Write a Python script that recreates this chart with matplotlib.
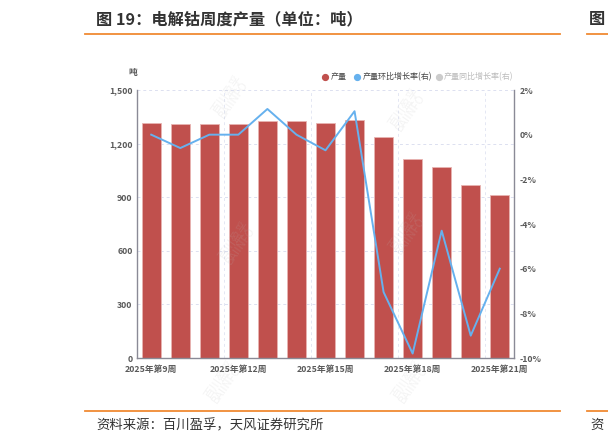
import matplotlib
matplotlib.use("Agg")
import matplotlib.pyplot as plt
import numpy as np
from matplotlib.lines import Line2D

plt.rcParams['font.family'] = ['Noto Sans CJK SC', 'DejaVu Sans']

weeks = ["2025年第9周", "2025年第10周", "2025年第11周", "2025年第12周", "2025年第13周",
         "2025年第14周", "2025年第15周", "2025年第16周", "2025年第17周", "2025年第18周",
         "2025年第19周", "2025年第20周", "2025年第21周"]
output = [1317, 1310, 1310, 1310, 1326, 1326, 1315, 1332, 1235, 1114, 1069, 970, 912]
mom = [0.0, -0.6, 0.0, 0.0, 1.15, 0.0, -0.7, 1.05, -7.05, -9.8, -4.3, -9.0, -6.0]
left_ticks = [0, 300, 600, 900, 1200, 1500]
right_ticks = [-10, -8, -6, -4, -2, 0, 2]

W, H = 608, 446
fig = plt.figure(figsize=(W / 100, H / 100), dpi=100)

def fx(px):
    return px / W

def fy(py):
    return 1 - py / H

ax = fig.add_axes([fx(136.7), fy(358), fx(514.3) - fx(136.7), fy(90) - fy(358)])
x = np.arange(len(weeks))

bar_col = '#C0504D'
line_col = '#66B1EE'
tick_col = '#5A5A5A'
spine_col = '#8A8A96'

# grid
for v in left_ticks[1:]:
    ax.axhline(v, color='#DCE0F0', lw=0.7, ls=(0, (3, 3)), zorder=0)
for v in [2.5, 5.5, 8.5, 11.5]:
    ax.axvline(v, color='#E4E7F3', lw=0.7, ls=(0, (3, 3)), zorder=0)

ax.bar(x, output, width=0.66, color=bar_col, edgecolor='#E8B4B2', linewidth=0.6, zorder=2)
ax.set_xlim(-0.5, len(weeks) - 0.5)
ax.set_ylim(0, 1500)
ax.set_yticks(left_ticks)
ax.set_yticklabels([f"{v:,}" for v in left_ticks])
ax.set_xticks(x[::3])
ax.set_xticklabels(weeks[::3])
ax.tick_params(axis='both', colors=tick_col, labelsize=6.3, length=0, pad=3)
for lab in ax.get_xticklabels() + ax.get_yticklabels():
    lab.set_fontweight('bold')
    lab.set_color(tick_col)
ax.tick_params(axis='x', pad=5)
for s in ['top', 'right']:
    ax.spines[s].set_visible(False)
ax.spines['left'].set_color(spine_col)
ax.spines['bottom'].set_color(spine_col)
ax.spines['left'].set_linewidth(1.0)
ax.spines['bottom'].set_linewidth(1.0)

ax2 = ax.twinx()
ax2.plot(x, mom, color=line_col, lw=1.4, zorder=3)
ax2.set_ylim(-10, 2)
ax2.set_yticks(right_ticks)
ax2.set_yticklabels([f"{v}%" for v in right_ticks])
ax2.tick_params(axis='y', colors=tick_col, labelsize=6.3, length=0, pad=4)
for lab in ax2.get_yticklabels():
    lab.set_fontweight('bold')
    lab.set_color(tick_col)
for s in ['top', 'left', 'bottom']:
    ax2.spines[s].set_visible(False)
ax2.spines['right'].set_color(spine_col)
ax2.spines['right'].set_linewidth(1.0)

# unit label
fig.text(fx(132.7), fy(72.7), "吨", fontsize=6.3, color=tick_col, fontweight='bold',
         ha='center', va='center')

# legend
def leg_item(dotx, textx, label, dcol, tcol):
    fig.add_artist(Line2D([fx(dotx)], [fy(76.7)], marker='o', markersize=4.2,
                          color=dcol, transform=fig.transFigure))
    fig.text(fx(textx), fy(76.7), label, fontsize=5.8, color=tcol, ha='left', va='center')

leg_item(325, 330.5, "产量", bar_col, '#444444')
leg_item(357.3, 362.5, "产量环比增长率(右)", line_col, '#444444')
leg_item(439.3, 444, "产量同比增长率(右)", '#CCCCCC', '#BBBBBB')

# watermarks
for (wx, wy) in [(230, 97), (407, 110), (237, 243), (407, 233), (223, 382), (410, 382)]:
    fig.text(fx(wx), fy(wy), "百川盈孚\nBAIINFO", fontsize=8, color='#BBBBBB', alpha=0.17,
             rotation=55, ha='center', va='center', linespacing=0.9, zorder=10)

# title and source
fig.text(fx(96), fy(19), "图 19：电解钴周度产量（单位：吨）", fontsize=11.7, color='#333333',
         fontweight='bold', ha='left', va='center')
fig.add_artist(Line2D([fx(85), fx(560)], [fy(34), fy(34)], color='#F08A33', lw=1.3,
                      transform=fig.transFigure))
fig.add_artist(Line2D([fx(587), fx(608)], [fy(34), fy(34)], color='#F08A33', lw=1.3,
                      transform=fig.transFigure))
fig.text(fx(589), fy(19), "图", fontsize=11.7, color='#333333', fontweight='bold',
         ha='left', va='center')

fig.add_artist(Line2D([fx(85), fx(560)], [fy(411), fy(411)], color='#F08A33', lw=1.3,
                      transform=fig.transFigure))
fig.add_artist(Line2D([fx(587), fx(608)], [fy(411), fy(411)], color='#F08A33', lw=1.3,
                      transform=fig.transFigure))
fig.text(fx(96), fy(425), "资料来源：百川盈孚，天风证券研究所", fontsize=9.6, color='#333333',
         ha='left', va='center')
fig.text(fx(590), fy(425), "资", fontsize=9.6, color='#333333', ha='left', va='center')

fig.savefig("out.png", dpi=100)
